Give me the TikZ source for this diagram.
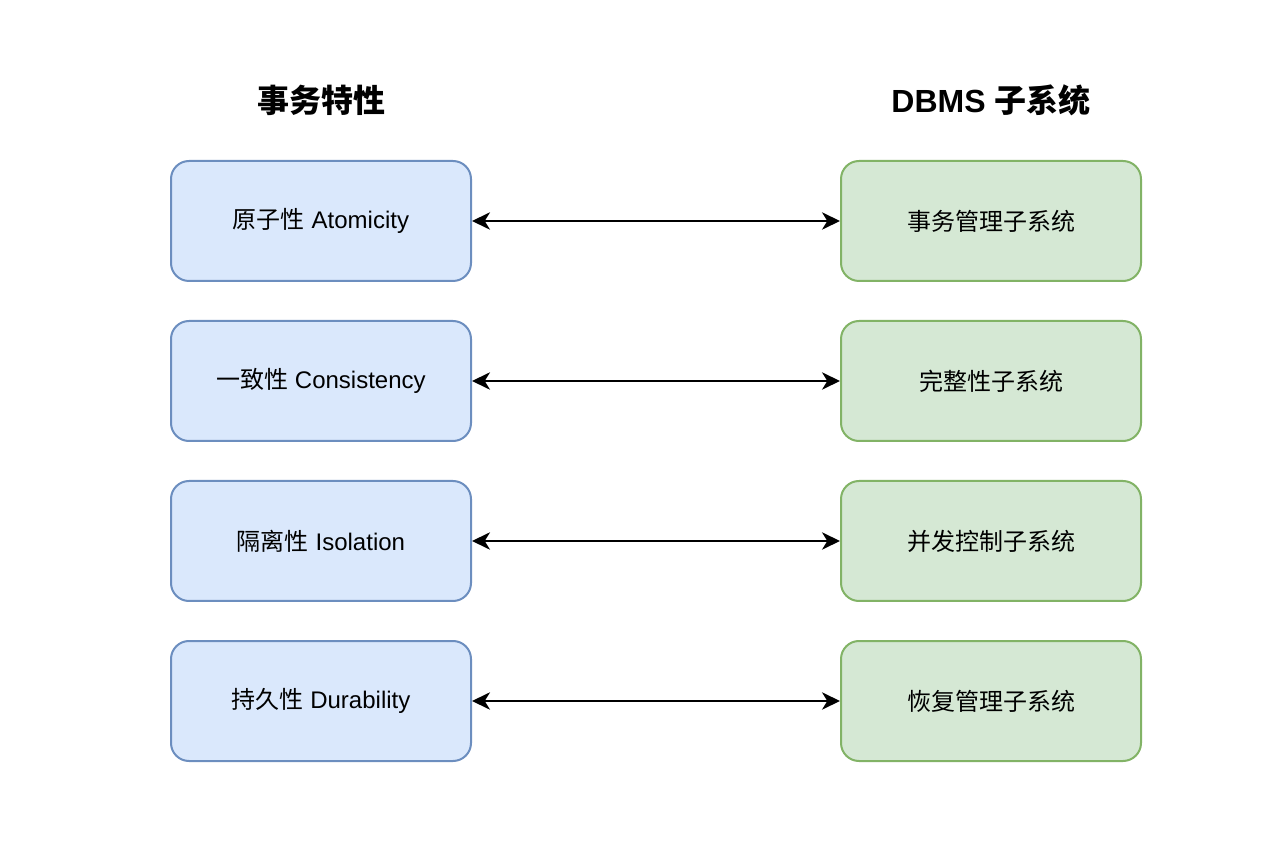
\documentclass[tikz,border=0pt]{standalone}
\usepackage{fontspec}
\setmainfont{Liberation Sans}
\newfontfamily\cjk{Noto Sans CJK SC}
\usetikzlibrary{arrows.meta}
\definecolor{bluefill}{HTML}{DAE8FC}
\definecolor{bluedraw}{HTML}{6C8EBF}
\definecolor{greenfill}{HTML}{D5E8D4}
\definecolor{greendraw}{HTML}{82B366}
\tikzset{
  prop/.style={draw=bluedraw, fill=bluefill, line width=1.5pt, rounded corners=13.5pt,
    minimum width=225pt, minimum height=90pt, inner sep=0pt, font=\fontsize{18pt}{22pt}\selectfont},
  subsys/.style={draw=greendraw, fill=greenfill, line width=1.5pt, rounded corners=13.5pt,
    minimum width=225pt, minimum height=90pt, inner sep=0pt, font=\fontsize{18pt}{22pt}\selectfont},
  head/.style={font=\fontsize{24pt}{28pt}\selectfont\bfseries},
  link/.style={line width=1.6pt, {Stealth[length=13.5pt,width=13pt,inset=4pt]}-{Stealth[length=13.5pt,width=13pt,inset=4pt]}}
}
\begin{document}
\begin{tikzpicture}[x=0.75pt,y=-0.75pt]
\useasboundingbox (0,0) rectangle (1282,862);
\node[head] (h1) at (321,100) {\cjk 事务特性};
\node[head] (h2) at (991,100) {DBMS {\cjk 子系统}};
\node[prop] (a1) at (321,221) {\raisebox{-1pt}{{\cjk 原子性} Atomicity}};
\node[prop] (a2) at (321,381) {\raisebox{-1pt}{{\cjk 一致性} Consistency}};
\node[prop] (a3) at (321,541) {\raisebox{-1pt}{{\cjk 隔离性} Isolation}};
\node[prop] (a4) at (321,701) {\raisebox{-1pt}{{\cjk 持久性} Durability}};
\node[subsys] (b1) at (991,221) {\cjk 事务管理子系统};
\node[subsys] (b2) at (991,381) {\cjk 完整性子系统};
\node[subsys] (b3) at (991,541) {\cjk 并发控制子系统};
\node[subsys] (b4) at (991,701) {\cjk 恢复管理子系统};
\draw[link] (a1) -- (b1);
\draw[link] (a2) -- (b2);
\draw[link] (a3) -- (b3);
\draw[link] (a4) -- (b4);
\end{tikzpicture}
\end{document}
